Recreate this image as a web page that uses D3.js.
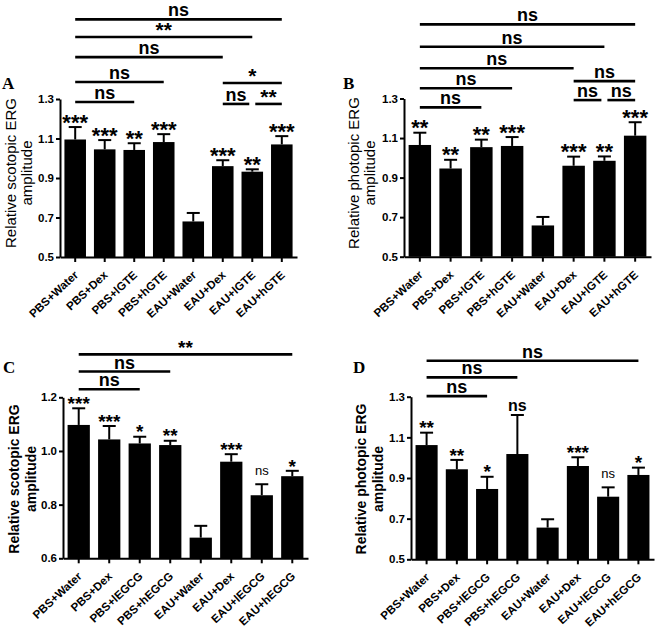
<!DOCTYPE html>
<html><head><meta charset="utf-8">
<script src="https://cdn.jsdelivr.net/npm/d3@7"></script>
<style>
body{margin:0;background:#fff}
svg{font-family:"Liberation Sans",Arial,sans-serif}
.domain,.tick line{stroke:#000;stroke-width:2}
</style>
</head><body><svg id="c" width="656" height="630"></svg>
<script>
// ---------- data ----------
const catsGTE  = ["PBS+Water","PBS+Dex","PBS+lGTE","PBS+hGTE","EAU+Water","EAU+Dex","EAU+lGTE","EAU+hGTE"];
const catsEGCG = ["PBS+Water","PBS+Dex","PBS+lEGCG","PBS+hEGCG","EAU+Water","EAU+Dex","EAU+lEGCG","EAU+hEGCG"];

const ticksA = [0.5,0.7,0.9,1.1,1.3];
const ticksB = [0.5,0.7,0.9,1.1,1.3];
const ticksC = [0.6,0.8,1.0,1.2];
const ticksD = [0.5,0.7,0.9,1.1,1.3];

const valsA = [1.095,1.045,1.042,1.082,0.680,0.960,0.932,1.070];
const errA  = [0.063,0.047,0.034,0.040,0.043,0.030,0.012,0.042];
const sigA  = ["***","***","**","***","","***","**","***"];

const valsB = [1.065,0.946,1.054,1.060,0.658,0.960,0.985,1.112];
const errB  = [0.062,0.044,0.038,0.045,0.043,0.046,0.022,0.068];
const sigB  = ["**","**","**","***","","***","**","***"];

const valsC = [1.097,1.043,1.028,1.022,0.677,0.960,0.835,0.906];
const errC  = [0.062,0.050,0.025,0.016,0.044,0.028,0.041,0.020];
const sigC  = ["***","***","*","**","","***","ns","*"];

const valsD = [1.062,0.943,0.846,1.018,0.656,0.959,0.808,0.915];
const errD  = [0.061,0.046,0.060,0.192,0.041,0.043,0.046,0.036];
const sigD  = ["**","**","*","ns","","***","ns","*"];

// brackets: [from index, to index, label, level (y value)]
const bracketsA = [[0,7,"ns",1.703],[0,6,"**",1.614],[0,5,"ns",1.512],[0,3,"ns",1.386],[0,2,"ns",1.285],[5,7,"*",1.381],[5,6,"ns",1.275],[6,7,"**",1.275]];
const bracketsB = [[0,7,"ns",1.675],[0,6,"ns",1.562],[0,5,"ns",1.453],[0,3,"ns",1.352],[0,2,"ns",1.255],[5,7,"ns",1.388],[5,6,"ns",1.292],[6,7,"ns",1.292]];
const bracketsC = [[0,7,"**",1.360],[0,3,"ns",1.296],[0,2,"ns",1.230]];
const bracketsD = [[0,7,"ns",1.477],[0,3,"ns",1.395],[0,2,"ns",1.303]];

// ---------- drawing ----------
const svg = d3.select("#c");
svg.append("rect").attr("width",656).attr("height",630).attr("fill","#fff");

function drawPanel(p){
  const g = svg.append("g");
  const x = d3.scaleBand().domain(p.cats).range(p.xr).paddingInner(0.27).paddingOuter(0.15);
  const y = d3.scaleLinear().domain(p.dom).range(p.yr);
  const cx = i => x(p.cats[i]) + x.bandwidth()/2;

  // bars
  g.selectAll("rect.bar").data(p.vals).join("rect").attr("class","bar")
    .attr("x",(d,i)=>x(p.cats[i])).attr("width",x.bandwidth())
    .attr("y",d=>y(d)).attr("height",d=>y(p.dom[0])-y(d)).attr("fill","#000");

  // error bars (upper)
  p.vals.forEach((v,i)=>{
    const top = y(v + p.err[i]);
    g.append("line").attr("x1",cx(i)).attr("x2",cx(i)).attr("y1",y(v)).attr("y2",top)
      .attr("stroke","#000").attr("stroke-width",2);
    g.append("line").attr("x1",cx(i)-6.5).attr("x2",cx(i)+6.5).attr("y1",top).attr("y2",top)
      .attr("stroke","#000").attr("stroke-width",2);
    const s = p.sig[i];
    if (!s) return;
    const t = g.append("text").attr("x",cx(i)).attr("text-anchor","middle").text(s).attr("fill","#000");
    if (s === "ns") {
      if (i < 4) t.attr("y",top-4).attr("font-size",16).attr("font-weight","bold");
      else t.attr("y",top-9).attr("font-size",13);
    } else {
      t.attr("y",top-4+0.3*p.starFs).attr("font-size",p.starFs).attr("font-weight","bold");
    }
  });

  // axes
  const ya = d3.axisLeft(y).tickValues(p.ticks).tickFormat(d3.format(".1f")).tickSize(4).tickPadding(2).tickSizeOuter(0);
  const yg = g.append("g").attr("transform",`translate(${p.xr[0]},0)`).call(ya);
  yg.selectAll("text").attr("font-size",11.5).attr("font-weight","bold").attr("fill","#000").attr("font-family","Liberation Sans, Arial, sans-serif");
  const xa = d3.axisBottom(x).tickSize(5).tickSizeOuter(0).tickFormat("");
  g.append("g").attr("transform",`translate(0,${p.yr[0]})`).call(xa);

  // x labels
  p.cats.forEach((c,i)=>{
    g.append("text").attr("transform",`translate(${cx(i)+1},${p.yr[0]+16}) rotate(-43)`)
      .attr("text-anchor","end").attr("dy","0.35em").attr("font-size",11.5).attr("font-weight","bold")
      .attr("fill","#000").text(c);
  });

  // y title
  const ym = p.titleY;
  p.title.forEach((t,k)=>{
    g.append("text").attr("transform",`translate(${p.xr[0]-p.titleDx[k]},${ym}) rotate(-90)`)
      .attr("text-anchor","middle").attr("dy","0.35em").attr("font-size",p.titleFs)
      .attr("font-weight",p.titleW).attr("fill","#000").text(t);
  });

  // panel letter
  g.append("text").attr("x",p.letterX).attr("y",p.letterY).attr("font-family","Liberation Serif, Times New Roman, serif")
    .attr("font-weight","bold").attr("font-size",17).attr("fill","#000").text(p.letter);

  // brackets
  p.brackets.forEach(b=>{
    let x1 = cx(b[0]), x2 = cx(b[1]);
    const same = p.brackets.filter(o=>o!==b && Math.abs(o[3]-b[3])<0.02);
    if (same.some(o=>o[1]===b[0])) x1 += 3;
    if (same.some(o=>o[0]===b[1])) x2 -= 3;
    const ly = y(b[3]);
    g.append("line").attr("x1",x1).attr("x2",x2).attr("y1",ly).attr("y2",ly)
      .attr("stroke","#000").attr("stroke-width",2.6);
    const t = g.append("text").attr("x",(x1+x2)/2).attr("text-anchor","middle").attr("font-weight","bold")
      .attr("fill","#000").text(b[2]);
    if (b[2].includes("*")) t.attr("font-size",p.bStarFs).attr("y",ly-6+0.3*p.bStarFs);
    else t.attr("font-size",18).attr("y",ly-3);
  });
}

drawPanel({cats:catsGTE, vals:valsA, err:errA, sig:sigA, brackets:bracketsA, ticks:ticksA,
  dom:[0.5,1.3], xr:[60,297], yr:[257,99], starFs:22, bStarFs:21,
  title:["Relative scotopic ERG","amplitude"], titleDx:[49,33], titleY:173, titleFs:15, titleW:"normal",
  letter:"A", letterX:2, letterY:89});
drawPanel({cats:catsGTE, vals:valsB, err:errB, sig:sigB, brackets:bracketsB, ticks:ticksB,
  dom:[0.5,1.3], xr:[404,651], yr:[256.7,98.5], starFs:22, bStarFs:21,
  title:["Relative photopic ERG","amplitude"], titleDx:[50,34], titleY:173, titleFs:15, titleW:"normal",
  letter:"B", letterX:343, letterY:89});
drawPanel({cats:catsEGCG, vals:valsC, err:errC, sig:sigC, brackets:bracketsC, ticks:ticksC,
  dom:[0.6,1.2], xr:[63,308], yr:[558.3,397.3], starFs:19, bStarFs:19,
  title:["Relative scotopic ERG","amplitude"], titleDx:[49,32], titleY:479, titleFs:14, titleW:"bold",
  letter:"C", letterX:3, letterY:373});
drawPanel({cats:catsEGCG, vals:valsD, err:errD, sig:sigD, brackets:bracketsD, ticks:ticksD,
  dom:[0.5,1.3], xr:[411,654], yr:[559.3,396.7], starFs:19, bStarFs:19,
  title:["Relative photopic ERG","amplitude"], titleDx:[50,33], titleY:479, titleFs:14, titleW:"bold",
  letter:"D", letterX:353, letterY:373});
</script>
</body></html>
